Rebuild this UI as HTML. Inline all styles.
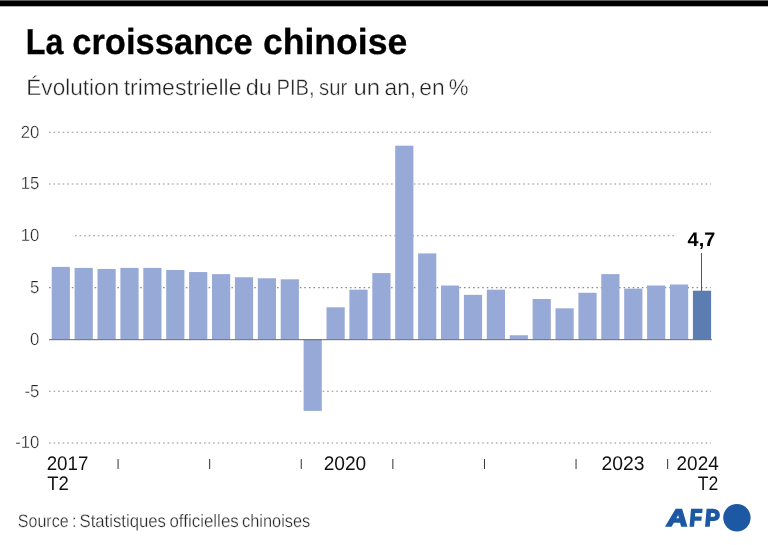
<!DOCTYPE html>
<html lang="fr"><head><meta charset="utf-8"><title>La croissance chinoise</title>
<style>
html,body{margin:0;padding:0;background:#fff;}
svg{display:block;}
text{font-family:"Liberation Sans",sans-serif;text-rendering:geometricPrecision;}
.title{font-weight:bold;font-size:36.1px;fill:#000;stroke:#000;stroke-width:0.3;}
.sub{font-size:22.6px;fill:#222;stroke:#fff;stroke-width:0.4;}
.yl{font-size:17.6px;fill:#2a2a2a;stroke:#fff;stroke-width:0.3;}
.xl{font-size:19.8px;fill:#111;}
.src{font-size:18px;fill:#262626;stroke:#fff;stroke-width:0.3;}
.val{font-size:19.7px;font-weight:bold;fill:#000;}
.afp{font-size:24px;font-weight:bold;font-style:italic;fill:#1d58a4;stroke:#1d58a4;stroke-width:1.7;stroke-linejoin:miter;}
</style></head><body>
<svg width="768" height="545" viewBox="0 0 768 545">
<rect x="0" y="0" width="768" height="545" fill="#fff"/>
<rect x="0" y="0" width="768" height="6.3" fill="#000"/><rect x="0" y="0" width="768" height="1" fill="#606060"/>
<text y="54" class="title"><tspan x="25.79" textLength="37.61" lengthAdjust="spacingAndGlyphs">La</tspan> <tspan x="72.2" textLength="180.48" lengthAdjust="spacingAndGlyphs">croissance</tspan> <tspan x="262.97" textLength="144.22" lengthAdjust="spacingAndGlyphs">chinoise</tspan></text>
<text y="95" class="sub"><tspan x="26.3" textLength="92.9" lengthAdjust="spacingAndGlyphs">Évolution</tspan> <tspan x="123.69" textLength="117.78" lengthAdjust="spacingAndGlyphs">trimestrielle</tspan> <tspan x="245.8" textLength="26.1" lengthAdjust="spacingAndGlyphs">du</tspan> <tspan x="276.51" textLength="38.16" lengthAdjust="spacingAndGlyphs">PIB,</tspan> <tspan x="319.1" textLength="28.17" lengthAdjust="spacingAndGlyphs">sur</tspan> <tspan x="353.45" textLength="26.59" lengthAdjust="spacingAndGlyphs">un</tspan> <tspan x="384.54" textLength="31.65" lengthAdjust="spacingAndGlyphs">an,</tspan> <tspan x="419.34" textLength="25.42" lengthAdjust="spacingAndGlyphs">en</tspan> <tspan x="448.82" textLength="19.76" lengthAdjust="spacingAndGlyphs">%</tspan></text>
<g><line x1="49" y1="132.20" x2="711" y2="132.20" stroke="#8c8c8c" stroke-width="1.1" stroke-dasharray="1.6 2.96"/><line x1="49" y1="184.00" x2="711" y2="184.00" stroke="#8c8c8c" stroke-width="1.1" stroke-dasharray="1.6 2.96"/><line x1="75" y1="235.80" x2="677" y2="235.80" stroke="#8c8c8c" stroke-width="1.1" stroke-dasharray="1.6 2.96"/><line x1="49" y1="287.60" x2="711" y2="287.60" stroke="#8c8c8c" stroke-width="1.1" stroke-dasharray="1.6 2.96"/><line x1="49" y1="391.20" x2="711" y2="391.20" stroke="#8c8c8c" stroke-width="1.1" stroke-dasharray="1.6 2.96"/><line x1="49" y1="443.00" x2="711" y2="443.00" stroke="#8c8c8c" stroke-width="1.1" stroke-dasharray="1.6 2.96"/></g>
<g><rect x="51.70" y="266.88" width="18.2" height="72.52" fill="#97a9d7"/><rect x="74.60" y="267.92" width="18.2" height="71.48" fill="#97a9d7"/><rect x="97.50" y="268.95" width="18.2" height="70.45" fill="#97a9d7"/><rect x="120.40" y="267.92" width="18.2" height="71.48" fill="#97a9d7"/><rect x="143.30" y="267.92" width="18.2" height="71.48" fill="#97a9d7"/><rect x="166.20" y="269.99" width="18.2" height="69.41" fill="#97a9d7"/><rect x="189.10" y="272.06" width="18.2" height="67.34" fill="#97a9d7"/><rect x="212.00" y="274.13" width="18.2" height="65.27" fill="#97a9d7"/><rect x="234.90" y="277.24" width="18.2" height="62.16" fill="#97a9d7"/><rect x="257.80" y="278.28" width="18.2" height="61.12" fill="#97a9d7"/><rect x="280.70" y="279.31" width="18.2" height="60.09" fill="#97a9d7"/><rect x="303.60" y="339.40" width="18.2" height="71.48" fill="#97a9d7"/><rect x="326.50" y="307.28" width="18.2" height="32.12" fill="#97a9d7"/><rect x="349.40" y="289.67" width="18.2" height="49.73" fill="#97a9d7"/><rect x="372.30" y="273.10" width="18.2" height="66.30" fill="#97a9d7"/><rect x="395.20" y="145.67" width="18.2" height="193.73" fill="#97a9d7"/><rect x="418.10" y="253.41" width="18.2" height="85.99" fill="#97a9d7"/><rect x="441.00" y="285.53" width="18.2" height="53.87" fill="#97a9d7"/><rect x="463.90" y="294.85" width="18.2" height="44.55" fill="#97a9d7"/><rect x="486.80" y="289.67" width="18.2" height="49.73" fill="#97a9d7"/><rect x="509.70" y="335.26" width="18.2" height="4.14" fill="#97a9d7"/><rect x="532.60" y="299.00" width="18.2" height="40.40" fill="#97a9d7"/><rect x="555.50" y="308.32" width="18.2" height="31.08" fill="#97a9d7"/><rect x="578.40" y="292.78" width="18.2" height="46.62" fill="#97a9d7"/><rect x="601.30" y="274.13" width="18.2" height="65.27" fill="#97a9d7"/><rect x="624.20" y="288.64" width="18.2" height="50.76" fill="#97a9d7"/><rect x="647.10" y="285.53" width="18.2" height="53.87" fill="#97a9d7"/><rect x="670.00" y="284.49" width="18.2" height="54.91" fill="#97a9d7"/><rect x="692.90" y="290.71" width="18.2" height="48.69" fill="#5c7db1"/></g>
<line x1="49" y1="339.7" x2="712" y2="339.7" stroke="#666" stroke-width="1"/>
<g><text transform="translate(39.3,138.00) scale(0.95,1)" x="0" y="0" text-anchor="end" class="yl">20</text><text transform="translate(39.3,189.00) scale(0.95,1)" x="0" y="0" text-anchor="end" class="yl">15</text><text transform="translate(39.3,241.00) scale(0.95,1)" x="0" y="0" text-anchor="end" class="yl">10</text><text transform="translate(39.3,293.00) scale(0.95,1)" x="0" y="0" text-anchor="end" class="yl">5</text><text transform="translate(39.3,345.00) scale(0.95,1)" x="0" y="0" text-anchor="end" class="yl">0</text><text transform="translate(39.3,397.00) scale(0.95,1)" x="0" y="0" text-anchor="end" class="yl">-5</text><text transform="translate(39.3,448.00) scale(0.95,1)" x="0" y="0" text-anchor="end" class="yl">-10</text></g>
<g><rect x="117.55" y="459" width="1" height="10" fill="#333"/><rect x="209.15" y="459" width="1" height="10" fill="#333"/><rect x="300.75" y="459" width="1" height="10" fill="#333"/><rect x="392.35" y="459" width="1" height="10" fill="#333"/><rect x="483.95" y="459" width="1" height="10" fill="#333"/><rect x="575.55" y="459" width="1" height="10" fill="#333"/><rect x="667.15" y="459" width="1" height="10" fill="#333"/></g>
<text x="46.7" y="470" class="xl" textLength="41.7" lengthAdjust="spacingAndGlyphs">2017</text>
<text x="47.2" y="490" class="xl" textLength="21.6" lengthAdjust="spacingAndGlyphs">T2</text>
<text x="323.7" y="470" class="xl" textLength="42.5" lengthAdjust="spacingAndGlyphs">2020</text>
<text x="601.4" y="470" class="xl" textLength="43" lengthAdjust="spacingAndGlyphs">2023</text>
<text x="676.6" y="470" class="xl" textLength="42.1" lengthAdjust="spacingAndGlyphs">2024</text>
<text x="697.8" y="490" class="xl" textLength="20.5" lengthAdjust="spacingAndGlyphs">T2</text>
<line x1="701.5" y1="253" x2="701.5" y2="291" stroke="#444" stroke-width="0.9"/>
<text x="687.6" y="246" class="val" textLength="27.6" lengthAdjust="spacingAndGlyphs">4,7</text>
<text y="527" class="src"><tspan x="17.86" textLength="50.77" lengthAdjust="spacingAndGlyphs">Source</tspan> <tspan x="71.7">:</tspan> <tspan x="79.47" textLength="86.48" lengthAdjust="spacingAndGlyphs">Statistiques</tspan> <tspan x="169.46" textLength="69.32" lengthAdjust="spacingAndGlyphs">officielles</tspan> <tspan x="241.99" textLength="68.34" lengthAdjust="spacingAndGlyphs">chinoises</tspan></text>
<text transform="translate(0,526) skewX(5)" y="0" class="afp"><tspan x="667.3" textLength="21" lengthAdjust="spacingAndGlyphs">A</tspan><tspan x="690" textLength="12.8" lengthAdjust="spacingAndGlyphs">F</tspan><tspan x="705.4" textLength="14.6" lengthAdjust="spacingAndGlyphs">P</tspan></text>
<circle cx="736.9" cy="517.8" r="13.7" fill="#1d58a4"/>
</svg>
</body></html>
